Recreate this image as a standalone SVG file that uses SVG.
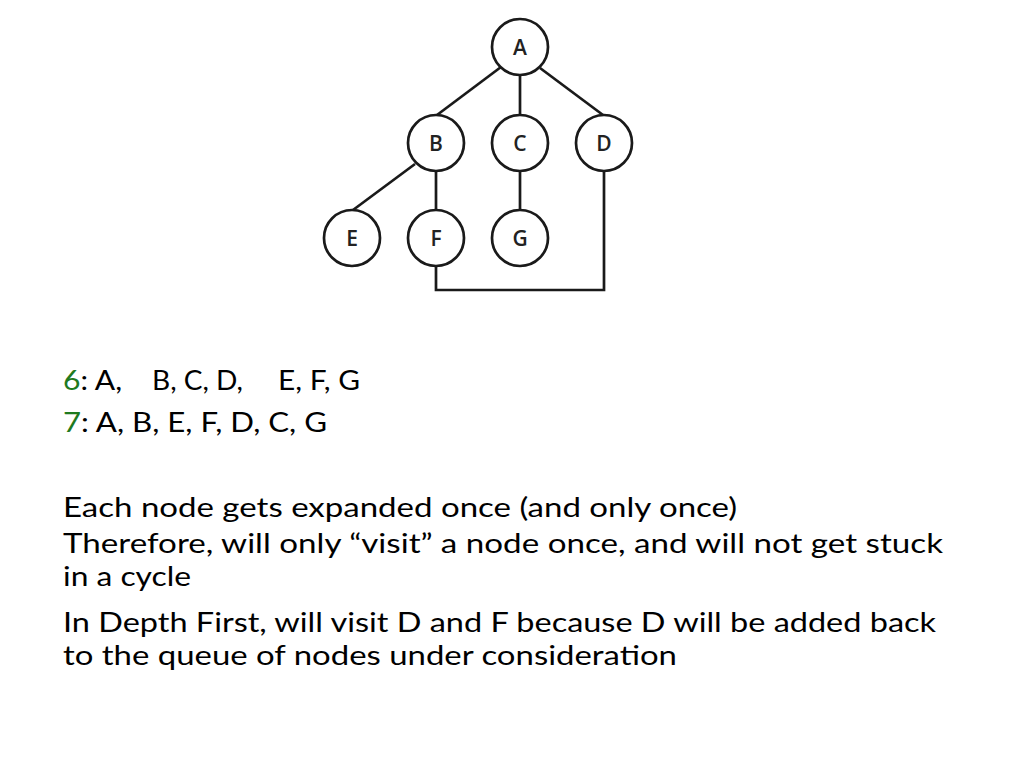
<svg xmlns="http://www.w3.org/2000/svg" width="1024" height="768" viewBox="0 0 1024 768">
<style>
.edge{stroke:#1a1a1a;stroke-width:2.7;fill:none;stroke-linecap:butt;stroke-linejoin:miter}
.circ{fill:#fff;stroke:#1a1a1a;stroke-width:2.7}
.lbl{font-family:"Open Sans","DejaVu Sans",sans-serif;font-size:21px;font-weight:600;fill:#222;text-anchor:middle}
.body{font-family:Lato,"Open Sans","Liberation Sans",sans-serif;font-size:27px;fill:#000}
.num{fill:#1f7a1f}
</style>
<rect width="1024" height="768" fill="#fff"/>
<g id="connectors">
<line class="edge" x1="501" y1="67" x2="437" y2="115"/>
<line class="edge" x1="520" y1="75" x2="520" y2="115"/>
<line class="edge" x1="540" y1="68" x2="603" y2="115"/>
<line class="edge" x1="415" y1="164" x2="353" y2="210"/>
<line class="edge" x1="436" y1="171" x2="436" y2="210"/>
<line class="edge" x1="520" y1="171" x2="520" y2="210"/>
<path class="edge" d="M436 266 V290 H604 V171"/>
</g>
<g id="node-A"><circle class="circ" cx="520" cy="47" r="28"/><text class="lbl" x="520" y="55">A</text></g>
<g id="node-B"><circle class="circ" cx="436" cy="143" r="28"/><text class="lbl" x="436" y="151">B</text></g>
<g id="node-C"><circle class="circ" cx="520" cy="143" r="28"/><text class="lbl" x="520" y="151">C</text></g>
<g id="node-D"><circle class="circ" cx="604" cy="143" r="28"/><text class="lbl" x="604" y="151">D</text></g>
<g id="node-E"><circle class="circ" cx="352" cy="238" r="28"/><text class="lbl" x="352" y="246">E</text></g>
<g id="node-F"><circle class="circ" cx="436" cy="238" r="28"/><text class="lbl" x="436" y="246">F</text></g>
<g id="node-G"><circle class="circ" cx="520" cy="238" r="28"/><text class="lbl" x="520" y="246">G</text></g>
<g id="text">
<text class="body" x="63" y="390" textLength="59" lengthAdjust="spacingAndGlyphs"><tspan class="num">6</tspan>: A,</text>
<text class="body" x="152" y="390" textLength="91" lengthAdjust="spacingAndGlyphs">B, C, D,</text>
<text class="body" x="278" y="390" textLength="82" lengthAdjust="spacingAndGlyphs">E, F, G</text>
<text class="body" x="63" y="432" textLength="264" lengthAdjust="spacingAndGlyphs"><tspan class="num">7</tspan>: A, B, E, F, D, C, G</text>
<text class="body" x="63" y="517" textLength="674" lengthAdjust="spacingAndGlyphs">Each node gets expanded once (and only once)</text>
<text class="body" x="63" y="553" textLength="880" lengthAdjust="spacingAndGlyphs">Therefore, will only “visit” a node once, and will not get stuck</text>
<text class="body" x="63" y="586" textLength="128" lengthAdjust="spacingAndGlyphs">in a cycle</text>
<text class="body" x="63" y="632" textLength="873" lengthAdjust="spacingAndGlyphs">In Depth First, will visit D and F because D will be added back</text>
<text class="body" x="63" y="665" textLength="614" lengthAdjust="spacingAndGlyphs">to the queue of nodes under consideration</text>
</g>
</svg>
